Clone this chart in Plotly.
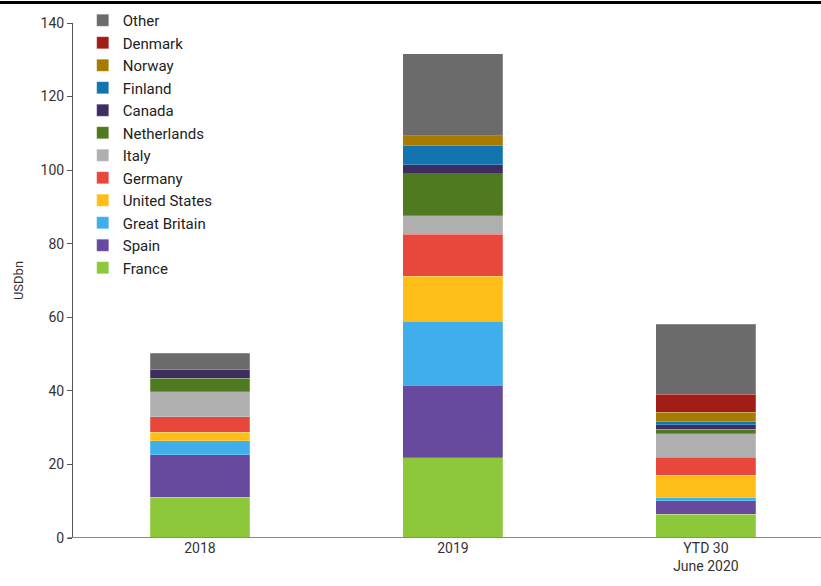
import plotly.graph_objects as go

categories = ["2018", "2019", "YTD 30<br>June 2020"]
countries = ["France", "Spain", "Great Britain", "United States", "Germany", "Italy",
             "Netherlands", "Canada", "Finland", "Norway", "Denmark", "Other"]
france = [11.1, 21.8, 6.5]
spain = [11.5, 19.7, 3.6]
great_britain = [3.8, 17.4, 0.8]
united_states = [2.4, 12.3, 6.1]
germany = [4.1, 11.4, 4.9]
italy = [6.9, 5.0, 6.4]
netherlands = [3.6, 11.4, 1.3]
canada = [2.4, 2.4, 1.2]
finland = [0.0, 5.2, 0.9]
norway = [0.0, 2.7, 2.5]
denmark = [0.0, 0.0, 4.9]
other = [4.4, 22.3, 19.0]
series = [france, spain, great_britain, united_states, germany, italy,
          netherlands, canada, finland, norway, denmark, other]
colors = ["#8CC83A", "#674A9E", "#3FAEEA", "#FFBE17", "#E8473B", "#AFAFAF",
          "#4F7A20", "#3F2D62", "#1474B0", "#A77A00", "#A01E16", "#6B6B6B"]
y_ticks = [0, 20, 40, 60, 80, 100, 120, 140]

FONT = "Roboto"
fig = go.Figure()
for name, vals, col in zip(countries, series, colors):
    fig.add_trace(go.Bar(x=categories, y=vals, name=name, marker_color=col,
                         marker_line=dict(color="rgba(255,255,255,0.35)", width=0.6)))

fig.update_layout(
    width=821, height=586,
    margin=dict(l=73, r=0, t=23, b=48, autoexpand=False),
    barmode="stack", bargap=0.605,
    plot_bgcolor="white", paper_bgcolor="white",
    font=dict(family=FONT, size=14, color="#333333"),
    legend=dict(traceorder="reversed", x=0.013, xanchor="left", y=1.037, yanchor="top",
                bgcolor="rgba(0,0,0,0)", font=dict(size=15, color="#222222"),
                itemwidth=30, tracegroupgap=0),
    xaxis=dict(range=[-0.502, 2.455], showline=False,
               ticks="", tickfont=dict(size=14, color="#333333"), showgrid=False,
               automargin=False),
    yaxis=dict(range=[0, 140], tickvals=y_ticks, showline=True, linecolor="#555555",
               linewidth=1, ticks="outside", ticklen=5, tickcolor="#555555",
               showgrid=False, zeroline=False, tickfont=dict(size=14, color="#333333"),
               automargin=False,
               title=dict(text="USDbn", font=dict(size=13, color="#333333"), standoff=14)),
    shapes=[
        dict(type="line", xref="paper", yref="paper", x0=-0.2, x1=1.1,
             y0=1.04, y1=1.04, line=dict(color="black", width=3)),
        dict(type="line", xref="paper", yref="y", x0=-0.007, x1=1.05,
             y0=0, y1=0, line=dict(color="#8a8a8a", width=2), layer="above"),
    ],
)
fig.write_html("out.html", config={"displayModeBar": False},
               post_script=("document.body.style.margin='0';"
                            "document.body.style.overflow='hidden';"
                            "document.documentElement.style.overflow='hidden';"))
